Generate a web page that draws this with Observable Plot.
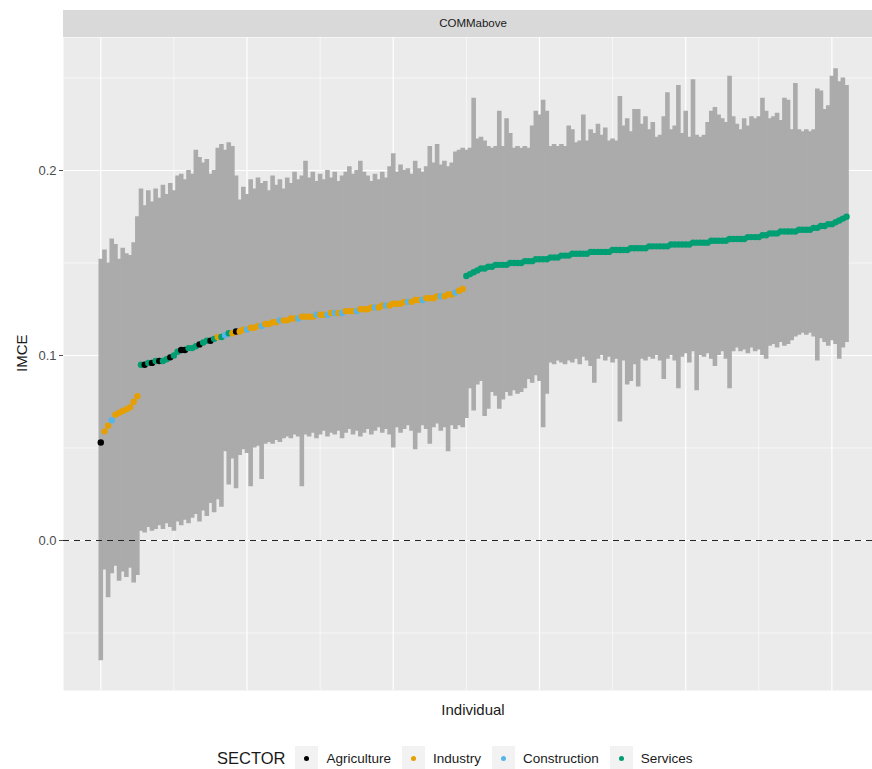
<!DOCTYPE html>
<html>
<head>
<meta charset="utf-8">
<script src="https://cdn.jsdelivr.net/npm/d3@7"></script>
<script src="https://cdn.jsdelivr.net/npm/@observablehq/plot@0.6"></script>
<style>
  html, body { margin: 0; padding: 0; background: #ffffff; overflow: hidden; }
  body { font-family: "Liberation Sans", Arial, sans-serif; width: 872px; height: 769px; }
  #strip { margin-top: 10px; margin-left: 63px; width: 820px; height: 27px; background: #D9D9D9;
           font-size: 11.5px; line-height: 27px; text-align: center; color: #1A1A1A; }
  #legend { display: flex; align-items: center; margin-top: 21px; padding-left: 217px; color: #1A1A1A; }
  #legend .title { font-size: 16.5px; margin-right: 10px; }
  #legend .key { width: 23px; height: 24px; background: #F2F2F2; display: flex; align-items: center; justify-content: center; }
  #legend .key span { width: 5px; height: 5px; border-radius: 50%; display: block; }
  #legend .lab { font-size: 13.5px; margin-left: 8px; margin-right: 11px; }
</style>
</head>
<body>
<div id="strip">COMMabove</div>
<div id="chart"></div>
<div id="legend"></div>
<script>
// ---- data (individuals ordered by estimate; one sample per 5 individuals) ----
const sectors = ["Agriculture", "Industry", "Construction", "Services"];
const sectorColors = ["#000000", "#E69F00", "#56B4E9", "#009E73"];
const sectorKey = {A: "Agriculture", I: "Industry", C: "Construction", S: "Services"};

const sectorCodes = (
  "AIICIIIIIII" +
  "SASASASSAS" + "SAASSSASSA" + "SISCSIAIIC" + "IIICIIIICI" + "IIICIIIICI" +
  "ICICICIIIC" + "IIIICIICII" + "IIICIIICII" + "IICIIICII" +
  "SSSSSSSSSSSSSSSSSSSSSSSSSSSSSSSSSSSSSSSSSSSSSSSSSSSSSSSSSSSSSSSSSSSSSSSSSSSSSSSSSSSSSSSSSSSSSSSSSSSSSSSSS"
).split("");

const estimate = [
  0.053,0.059,0.062,0.065,0.068,0.069,0.070,0.071,0.072,0.075,0.078,
  0.095,0.095,0.096,0.096,0.097,0.097,0.097,0.098,0.099,0.100,
  0.102,0.103,0.103,0.104,0.104,0.105,0.106,0.107,0.108,0.108,
  0.109,0.110,0.110,0.111,0.112,0.112,0.113,0.113,0.114,0.114,
  0.115,0.115,0.116,0.116,0.117,0.117,0.118,0.118,0.119,0.119,
  0.119,0.120,0.120,0.120,0.121,0.121,0.121,0.121,0.122,0.122,
  0.122,0.122,0.123,0.123,0.123,0.123,0.124,0.124,0.124,0.124,
  0.125,0.125,0.125,0.126,0.126,0.126,0.127,0.127,0.127,0.128,
  0.128,0.128,0.129,0.129,0.129,0.130,0.130,0.130,0.131,0.131,
  0.131,0.132,0.132,0.132,0.133,0.133,0.134,0.135,0.136,
  0.143,0.144,0.145,0.146,0.147,0.147,0.148,0.148,0.149,0.149,
  0.149,0.149,0.150,0.150,0.150,0.150,0.151,0.151,0.151,0.152,
  0.152,0.152,0.152,0.153,0.153,0.153,0.154,0.154,0.154,0.155,
  0.155,0.155,0.155,0.155,0.156,0.156,0.156,0.156,0.156,0.156,
  0.157,0.157,0.157,0.157,0.157,0.158,0.158,0.158,0.158,0.158,
  0.159,0.159,0.159,0.159,0.159,0.159,0.160,0.160,0.160,0.160,
  0.160,0.160,0.161,0.161,0.161,0.161,0.161,0.162,0.162,0.162,
  0.162,0.162,0.163,0.163,0.163,0.163,0.163,0.164,0.164,0.164,
  0.164,0.165,0.165,0.166,0.166,0.166,0.167,0.167,0.167,0.167,
  0.167,0.168,0.168,0.168,0.168,0.169,0.169,0.170,0.170,0.171,
  0.171,0.172,0.173,0.174,0.175
];

const upper = [
  0.152,0.157,0.150,0.163,0.160,0.152,0.158,0.155,0.154,0.161,0.175,
  0.190,0.181,0.189,0.183,0.190,0.185,0.192,0.187,0.193,0.189,
  0.197,0.198,0.195,0.200,0.198,0.211,0.207,0.204,0.206,0.198,
  0.200,0.212,0.214,0.211,0.215,0.213,0.197,0.184,0.191,0.187,
  0.195,0.190,0.196,0.193,0.194,0.189,0.197,0.192,0.195,0.190,
  0.196,0.193,0.199,0.195,0.197,0.205,0.196,0.199,0.194,0.198,
  0.195,0.200,0.196,0.199,0.194,0.197,0.199,0.202,0.198,0.200,
  0.205,0.199,0.197,0.194,0.198,0.195,0.199,0.196,0.202,0.209,
  0.199,0.203,0.200,0.201,0.198,0.205,0.201,0.199,0.202,0.213,
  0.204,0.214,0.203,0.205,0.202,0.204,0.210,0.211,0.212,
  0.211,0.212,0.239,0.217,0.218,0.216,0.213,0.212,0.213,0.232,
  0.213,0.228,0.220,0.212,0.213,0.212,0.213,0.212,0.224,0.232,
  0.230,0.238,0.232,0.213,0.214,0.213,0.214,0.213,0.224,0.222,
  0.215,0.216,0.230,0.216,0.222,0.220,0.225,0.219,0.223,0.216,
  0.217,0.216,0.240,0.224,0.228,0.221,0.233,0.233,0.225,0.229,
  0.222,0.226,0.218,0.219,0.229,0.242,0.222,0.224,0.246,0.220,
  0.232,0.218,0.249,0.219,0.218,0.219,0.226,0.232,0.234,0.230,
  0.228,0.226,0.251,0.229,0.225,0.222,0.228,0.224,0.229,0.228,
  0.229,0.239,0.232,0.228,0.229,0.231,0.227,0.239,0.238,0.222,
  0.247,0.222,0.221,0.222,0.221,0.222,0.244,0.243,0.233,0.235,
  0.251,0.255,0.248,0.250,0.246
];

const lower = [
  -0.065,-0.016,-0.031,-0.018,-0.014,-0.022,-0.017,-0.020,-0.015,-0.023,-0.019,
  0.005,0.004,0.007,0.005,0.006,0.008,0.006,0.009,0.007,0.005,
  0.010,0.008,0.011,0.009,0.012,0.014,0.010,0.016,0.013,0.020,
  0.015,0.022,0.018,0.048,0.030,0.044,0.028,0.046,0.049,0.047,
  0.029,0.050,0.051,0.033,0.052,0.053,0.052,0.054,0.053,0.055,
  0.056,0.055,0.057,0.056,0.029,0.057,0.056,0.058,0.055,0.057,
  0.059,0.056,0.058,0.057,0.059,0.055,0.058,0.060,0.057,0.059,
  0.056,0.058,0.060,0.057,0.059,0.061,0.058,0.060,0.057,0.050,
  0.061,0.058,0.060,0.062,0.059,0.049,0.058,0.062,0.060,0.052,
  0.061,0.063,0.059,0.061,0.048,0.062,0.060,0.062,0.061,
  0.066,0.082,0.070,0.084,0.086,0.067,0.071,0.080,0.078,0.071,
  0.076,0.080,0.078,0.081,0.079,0.080,0.082,0.087,0.085,0.089,
  0.086,0.061,0.079,0.096,0.095,0.097,0.096,0.095,0.097,0.096,
  0.098,0.095,0.099,0.097,0.094,0.085,0.098,0.100,0.097,0.099,
  0.096,0.098,0.064,0.097,0.084,0.086,0.095,0.083,0.098,0.097,
  0.099,0.098,0.100,0.097,0.087,0.098,0.100,0.097,0.082,0.099,
  0.101,0.096,0.102,0.081,0.100,0.099,0.101,0.098,0.094,0.100,
  0.102,0.098,0.082,0.102,0.104,0.102,0.103,0.101,0.104,0.102,
  0.103,0.100,0.098,0.105,0.106,0.104,0.107,0.105,0.106,0.108,
  0.110,0.111,0.112,0.111,0.112,0.110,0.097,0.109,0.107,0.105,
  0.108,0.106,0.098,0.104,0.107
];

// gridline breaks (in sample index units: 20 samples = 100 individuals)
const majorX = [0, 40, 80, 120, 160, 200];
const minorX = [20, 60, 100, 140, 180];
const majorY = [0.0, 0.1, 0.2];
const minorY = [-0.05, 0.05, 0.15, 0.25];

const rows = estimate.map((v, i) => ({
  idx: i, est: v, lo: lower[i], hi: upper[i], sector: sectorKey[sectorCodes[i]]
}));

const chart = Plot.plot({
  width: 872,
  height: 688,
  marginLeft: 63,
  marginRight: 0,
  marginTop: 0,
  marginBottom: 35,
  style: {fontFamily: "'Liberation Sans', Arial, sans-serif", fontSize: "13px", color: "#4D4D4D", background: "#ffffff"},
  x: {domain: [-10.2, 211.1], axis: null},
  y: {domain: [-0.0811, 0.2719], ticks: majorY, tickFormat: d3.format(".1f"), tickSize: 4, tickPadding: 3, label: null},
  color: {domain: sectors, range: sectorColors},
  marks: [
    Plot.frame({fill: "#EBEBEB"}),
    Plot.ruleY(minorY, {stroke: "#ffffff", strokeWidth: 0.6}),
    Plot.ruleX(minorX, {stroke: "#ffffff", strokeWidth: 0.6}),
    Plot.ruleY(majorY, {stroke: "#ffffff", strokeWidth: 1.2}),
    Plot.ruleX(majorX, {stroke: "#ffffff", strokeWidth: 1.2}),
    Plot.ruleX(rows, {x: "idx", y1: "lo", y2: "hi", stroke: "#ABABAB", strokeWidth: 4.6}),
    Plot.ruleY([0], {stroke: "#262626", strokeWidth: 1.2, strokeDasharray: "6,5"}),
    Plot.dot(rows, {x: "idx", y: "est", fill: "sector", r: 3.2}),
    Plot.text(["IMCE"], {text: d => d, frameAnchor: "left", dx: -41, dy: 8, rotate: -90, fontSize: 15, fill: "#1A1A1A"}),
    Plot.text(["Individual"], {text: d => d, frameAnchor: "bottom", dx: 5, dy: 24, fontSize: 15, fill: "#1A1A1A"})
  ]
});
document.getElementById("chart").appendChild(chart);

// legend
const legend = document.getElementById("legend");
const t = document.createElement("span");
t.className = "title";
t.textContent = "SECTOR";
legend.appendChild(t);
sectors.forEach((s, k) => {
  const key = document.createElement("div");
  key.className = "key";
  const dot = document.createElement("span");
  dot.style.background = sectorColors[k];
  key.appendChild(dot);
  legend.appendChild(key);
  const lab = document.createElement("span");
  lab.className = "lab";
  lab.textContent = s;
  legend.appendChild(lab);
});
</script>
</body>
</html>
